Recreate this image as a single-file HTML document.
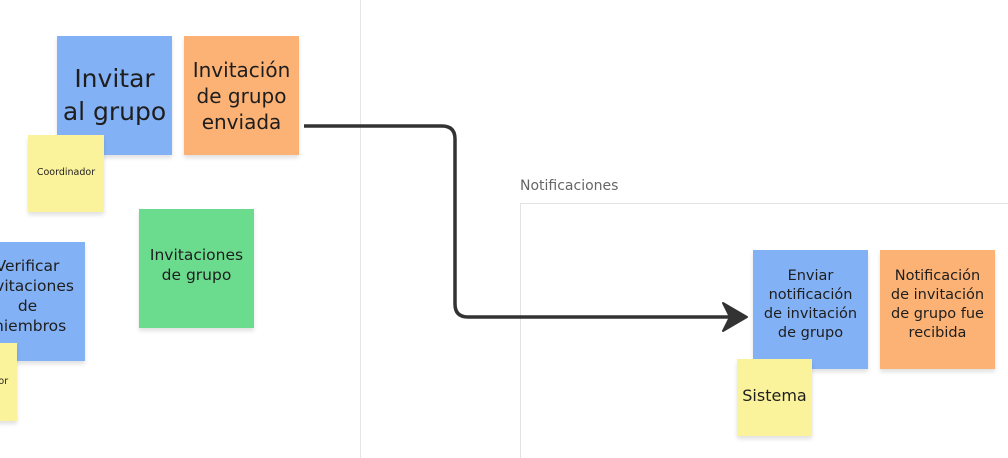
<!DOCTYPE html>
<html style="overflow:hidden;height:458px"><head><meta charset="utf-8"><style>
body{margin:0;width:1008px;height:458px;background:#fff;position:relative;overflow:hidden;font-family:"DejaVu Sans","Liberation Sans",sans-serif;color:#1e1e1e}
.n{position:absolute;display:flex;align-items:center;justify-content:center;text-align:center;box-shadow:0 3px 4px rgba(0,0,0,.12);line-height:1.3}
.b{background:#83b1f5}.o{background:#fcb274}.g{background:#6bdc8e}.y{background:#fbf39b}
</style></head><body>
<div style="position:absolute;left:360px;top:0;width:1px;height:458px;background:#e6e6e6"></div>
<div style="position:absolute;left:520px;top:203px;width:488px;height:255px;border:1px solid #e3e3e3;border-bottom:none;border-right:none;box-sizing:border-box"></div>
<div style="position:absolute;left:520px;top:178px;font-size:14px;color:#666">Notificaciones</div>

<div class="n b" style="left:57px;top:36px;width:115px;height:119px;font-size:25px">Invitar<br>al grupo</div>
<div class="n o" style="left:184px;top:36px;width:115px;height:119px;font-size:20px">Invitación<br>de grupo<br>enviada</div>
<div class="n y" style="left:28px;top:135px;width:76px;height:77px;font-size:9.5px">Coordinador</div>
<div class="n g" style="left:139px;top:209px;width:115px;height:119px;font-size:15.5px;align-items:flex-start;padding-top:36px;box-sizing:border-box">Invitaciones<br>de grupo</div>
<div class="n b" style="left:-30px;top:242px;width:115px;height:119px;font-size:15.5px;align-items:flex-start;padding-top:14px;box-sizing:border-box">Verificar<br>invitaciones<br>de<br>miembros</div>
<div class="n y" style="left:-59px;top:343px;width:76px;height:78px;font-size:9.5px">Coordinador</div>

<div class="n b" style="left:753px;top:250px;width:115px;height:119px;font-size:14.5px;align-items:flex-start;padding-top:17px;box-sizing:border-box">Enviar<br>notificación<br>de invitación<br>de grupo</div>
<div class="n o" style="left:880px;top:250px;width:115px;height:119px;font-size:14.5px;align-items:flex-start;padding-top:17px;box-sizing:border-box">Notificación<br>de invitación<br>de grupo fue<br>recibida</div>
<div class="n y" style="left:737px;top:359px;width:75px;height:77px;font-size:16px;align-items:flex-start;padding-top:27px;box-sizing:border-box">Sistema</div>

<svg width="1008" height="458" style="position:absolute;left:0;top:0">
<path d="M304 126 H442 Q455 126 455 139 V304 Q455 317 468 317 H730" fill="none" stroke="#333" stroke-width="3.5"/>
<path d="M723 303 L747 317 L723 331 L730 317 Z" fill="#333" stroke="#333" stroke-width="2" stroke-linejoin="round"/>
</svg>
</body></html>
